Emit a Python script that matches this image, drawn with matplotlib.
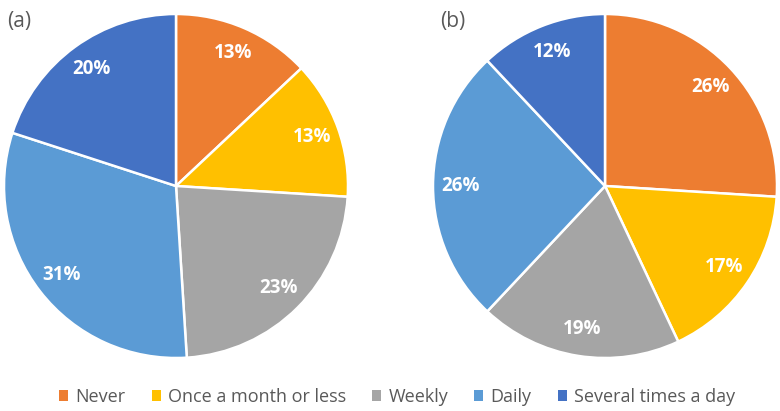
import numpy as np
import matplotlib
matplotlib.use("Agg")
import matplotlib.pyplot as plt
from matplotlib.patches import Patch

plt.rcParams['font.family'] = ['Open Sans', 'DejaVu Sans']

categories = ["Never", "Once a month or less", "Weekly", "Daily", "Several times a day"]
values_a = [13, 13, 23, 31, 20]
values_b = [26, 17, 19, 26, 12]
colors = ["#ED7D31", "#FFC000", "#A5A5A5", "#5B9BD5", "#4472C4"]

W, H = 780, 411
fig = plt.figure(figsize=(W / 100, H / 100), dpi=100)


def draw_pie(cx, cy, r, values, tag, tag_x):
    ax = fig.add_axes([(cx - r) / W, (H - cy - r) / H, 2 * r / W, 2 * r / H])
    ax.pie(values, colors=colors, startangle=90, counterclock=False,
           autopct=lambda p: "%d%%" % round(p), pctdistance=0.84,
           wedgeprops=dict(edgecolor="white", linewidth=1.8),
           textprops=dict(color="white", fontsize=13.5, fontweight="bold"))
    ax.set_xlim(-1, 1)
    ax.set_ylim(-1, 1)
    ax.set_aspect("equal")
    ax.axis("off")
    fig.text(tag_x / W, 1 - 22 / H, tag, fontsize=15, color="#595959",
             ha="left", va="center")


draw_pie(176, 186, 172, values_a, "(a)", 7)
draw_pie(605, 186, 172, values_b, "(b)", 440)

handles = [Patch(facecolor=c, edgecolor="none") for c in colors]
leg = fig.legend(handles, categories, loc="center", bbox_to_anchor=(397 / W, 1 - 397 / H),
                 ncol=5, frameon=False, fontsize=13, handlelength=0.5, handleheight=0.5,
                 handletextpad=0.4, columnspacing=1.45)
for t in leg.get_texts():
    t.set_color("#595959")

fig.savefig("out.png", dpi=100)
